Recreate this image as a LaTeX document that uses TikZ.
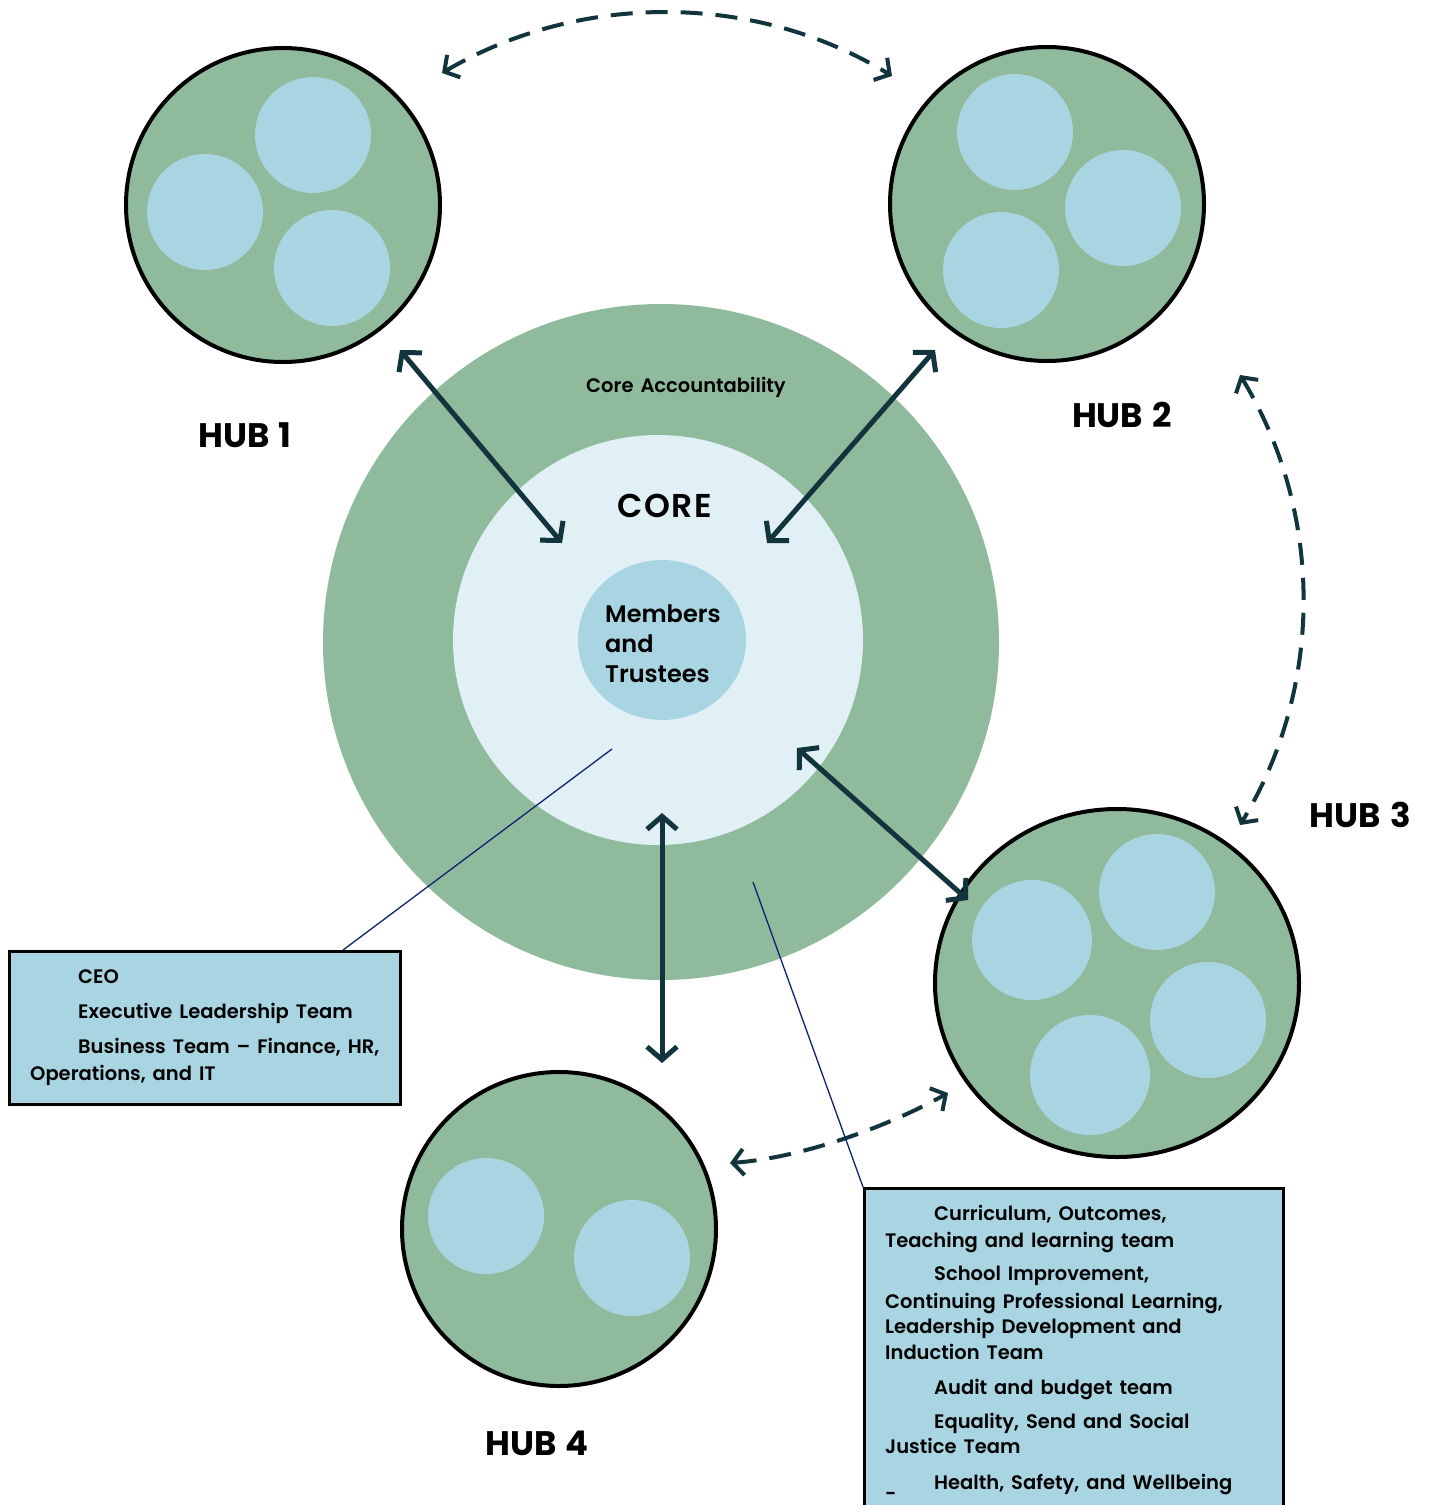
\documentclass[tikz,border=0pt]{standalone}
\usepackage{fontspec}
\setmainfont{Poppins}[BoldFont={Poppins SemiBold}, WordSpace=1.5]
\newfontfamily\heavyfont{Poppins Bold}[WordSpace=1.3]
\usetikzlibrary{arrows.meta,shapes.geometric}
\definecolor{ringgreen}{HTML}{8FBA9C}
\definecolor{paleblue}{HTML}{A8D5E1}
\definecolor{coreblue}{HTML}{E1F0F5}
\definecolor{arrowteal}{HTML}{12343C}
\definecolor{leadnavy}{HTML}{0E2370}
\tikzset{
  hubdisc/.style={draw=black, line width=4pt, fill=ringgreen},
  unitdisc/.style={fill=paleblue},
  hublabel/.style={font=\fontsize{34}{34}\selectfont\heavyfont, anchor=center},
  linkarrow/.style={draw=arrowteal, line width=5pt, {Straight Barb[length=13pt,width=30pt]}-{Straight Barb[length=13pt,width=30pt]}},
  peerarrow/.style={draw=arrowteal, line width=4pt, dash pattern=on 22pt off 13pt, {Straight Barb[length=11pt,width=26pt]}-{Straight Barb[length=11pt,width=26pt]}},
  leader/.style={draw=leadnavy, line width=1.3pt},
  infobox/.style={draw=black, line width=2.5pt, fill=paleblue},
  boxtext/.style={anchor=base west, inner sep=0pt, font=\fontsize{19.5}{19.5}\selectfont\bfseries},
  innertext/.style={anchor=base west, inner sep=0pt, font=\fontsize{24}{24}\selectfont\bfseries},
}
\begin{document}
\begin{tikzpicture}[x=1pt, y=-1pt]
\clip (0,0) rectangle (1428,1505);
\fill[white] (0,0) rectangle (1428,1505);

% core rings
\fill[ringgreen] (661,642) circle (338);
\fill[coreblue] (658,640) circle (205);
\node[fill=paleblue, ellipse, minimum width=168pt, minimum height=160pt, inner sep=0pt] (members) at (662,640) {};
\node[anchor=center, font=\fontsize{19.5}{19.5}\selectfont\bfseries] (acct) at (686,387) {Core Accountability};
\node[anchor=center, font=\fontsize{33}{33}\selectfont\bfseries] (core) at (665,506) {C\kern1.5pt O\kern1.5pt R\kern1.5pt E};
\node[innertext] (m1) at (605,622) {Members};
\node[innertext] (m2) at (605,652) {and};
\node[innertext] (m3) at (605,682) {Trustees};

% hub 1
\draw[hubdisc] (283,205) circle (157);
\fill[unitdisc] (313,135) circle (58);
\fill[unitdisc] (205,212) circle (58);
\fill[unitdisc] (332,268) circle (58);
\node[hublabel] (hubA) at (245,435) {HUB 1};

% hub 2
\draw[hubdisc] (1047,204) circle (157);
\fill[unitdisc] (1015,132) circle (58);
\fill[unitdisc] (1123,208) circle (58);
\fill[unitdisc] (1001,270) circle (58);
\node[hublabel] (hubB) at (1122,415) {HUB 2};

% hub 3
\draw[hubdisc] (1117,983) ellipse (182 and 174);
\fill[unitdisc] (1157,892) circle (58);
\fill[unitdisc] (1032,940) circle (60);
\fill[unitdisc] (1208,1020) circle (58);
\fill[unitdisc] (1090,1075) circle (60);
\node[hublabel] (hubC) at (1360,815) {HUB 3};

% hub 4
\draw[hubdisc] (559,1229) circle (157);
\fill[unitdisc] (486,1216) circle (58);
\fill[unitdisc] (632,1258) circle (58);
\node[hublabel] (hubD) at (537,1443) {HUB 4};

% arrow end points
\coordinate (a1) at (400,350);  \coordinate (c1) at (562,543);
\coordinate (a2) at (935,350);  \coordinate (c2) at (767,543);
\coordinate (a3) at (968,900);  \coordinate (c3) at (797,748);
\coordinate (a4) at (662,1063); \coordinate (c4) at (662,813);
\coordinate (p1) at (442,73);   \coordinate (p2) at (892,76);
\coordinate (q1) at (1240,375); \coordinate (q2) at (1240,825);
\coordinate (r1) at (730,1163); \coordinate (r2) at (948,1093);

% hub to core links
\draw[linkarrow] (a1) -- (c1);
\draw[linkarrow] (a2) -- (c2);
\draw[linkarrow] (a3) -- (c3);
\draw[linkarrow] (a4) -- (c4);

% hub to hub links
\draw[peerarrow] (p1) .. controls (580,-8) and (755,-8) .. (p2);
\draw[peerarrow] (q1) .. controls (1324,513) and (1324,687) .. (q2);
\draw[peerarrow] (r1) .. controls (800,1158) and (885,1128) .. (r2);

% left information box
\node[infobox, minimum width=391pt, minimum height=153pt, anchor=north west, inner sep=0pt] (leftbox) at (8,950) {};
\node[boxtext] (l1) at (78,983) {CEO};
\node[boxtext] (l2) at (78,1018) {Executive Leadership Team};
\node[boxtext] (l3) at (78,1053) {Business Team -- Finance, HR,};
\node[boxtext] (l4) at (30,1080) {Operations, and IT};

% right information box
\node[infobox, minimum width=419pt, minimum height=340pt, anchor=north west, inner sep=0pt] (rightbox) at (863,1187) {};
\node[boxtext] (t1) at (934,1220) {Curriculum, Outcomes,};
\node[boxtext] (t2) at (885,1247) {Teaching and learning team};
\node[boxtext] (t3) at (934,1280) {School Improvement,};
\node[boxtext] (t4) at (885,1308) {Continuing Professional Learning,};
\node[boxtext] (t5) at (885,1333) {Leadership Development and};
\node[boxtext] (t6) at (885,1359) {Induction Team};
\node[boxtext] (t7) at (934,1394) {Audit and budget team};
\node[boxtext] (t8) at (934,1428) {Equality, Send and Social};
\node[boxtext] (t9) at (885,1453) {Justice Team};
\node[boxtext] (t10) at (934,1489) {Health, Safety, and Wellbeing};
\node[boxtext] (t11) at (885,1500) {-};

% leader lines
\coordinate (lc) at (612,749);
\coordinate (lb) at (343,950);
\coordinate (rc) at (753,882);
\draw[leader] (lc) -- (lb);
\draw[leader] (rc) -- (rightbox.north west);
\end{tikzpicture}
\end{document}
